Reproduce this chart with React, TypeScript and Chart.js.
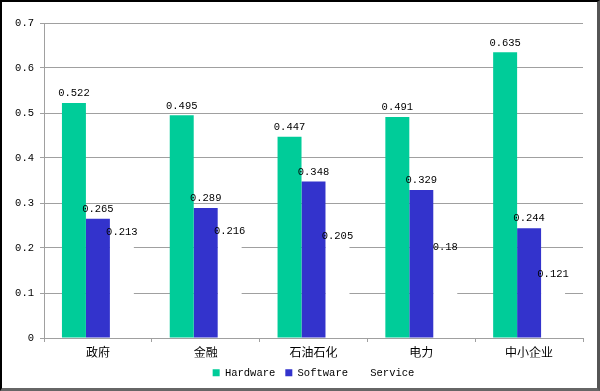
import React, { useEffect, useRef } from "react";
import { Chart, registerables } from "chart.js";

Chart.register(...registerables);

const categories = ["政府", "金融", "石油石化", "电力", "中小企业"];
const hardware = [0.522, 0.495, 0.447, 0.491, 0.635];
const software = [0.265, 0.289, 0.348, 0.329, 0.244];
const service = [0.213, 0.216, 0.205, 0.18, 0.121];
const yTicks = [0, 0.1, 0.2, 0.3, 0.4, 0.5, 0.6, 0.7];

const MONO = '"Liberation Mono", "DejaVu Sans Mono", monospace';
const CJK = '"Noto Sans CJK SC", sans-serif';
const GRID = "#a0a0a0";

const valueLabels = {
  id: "valueLabels",
  afterDatasetsDraw(chart: any) {
    const ctx = chart.ctx;
    ctx.save();
    ctx.font = `10.5px ${MONO}`;
    ctx.fillStyle = "#000";
    ctx.textAlign = "center";
    ctx.textBaseline = "middle";
    chart.data.datasets.forEach((ds: any, i: number) => {
      const meta = chart.getDatasetMeta(i);
      meta.data.forEach((el: any, j: number) => {
        ctx.fillText(String(ds.data[j]), el.x, el.y - 9.5);
      });
    });
    ctx.restore();
  },
};

export default function App() {
  const ref = useRef<HTMLCanvasElement>(null);
  useEffect(() => {
    if (!ref.current) return;
    const chart = new Chart(ref.current, {
      type: "bar",
      data: {
        labels: categories,
        datasets: [
          { label: "Hardware", data: hardware, backgroundColor: "#00cc99", borderWidth: 0 },
          { label: "Software", data: software, backgroundColor: "#3333cc", borderWidth: 0 },
          { label: "Service", data: service, backgroundColor: "#ffffff", borderWidth: 0 },
        ],
      },
      options: {
        responsive: false,
        animation: false,
        devicePixelRatio: 1,
        layout: { padding: { left: 0, top: 21, right: 14, bottom: 0 } },
        datasets: { bar: { barPercentage: 1, categoryPercentage: 0.667 } },
        plugins: {
          legend: {
            position: "bottom",
            fullSize: false,
            labels: {
              boxWidth: 7,
              boxHeight: 7,
              padding: 10,
              color: "#000",
              font: { family: MONO, size: 10.5 },
            },
          },
          tooltip: { enabled: false },
        },
        scales: {
          x: {
            grid: { display: true, drawOnChartArea: false, offset: true, tickLength: 4, color: GRID },
            border: { color: GRID },
            ticks: { color: "#000", font: { family: CJK, size: 12 }, padding: 3, maxRotation: 0 },
            afterFit: (s: any) => { s.height = 19.5; },
          },
          y: {
            min: 0,
            max: 0.7,
            afterBuildTicks: (s: any) => { s.ticks = yTicks.map((v) => ({ value: v })); },
            grid: { color: GRID, tickLength: 4 },
            border: { color: GRID },
            ticks: {
              color: "#000",
              font: { family: MONO, size: 10.5 },
              padding: 6,
              callback: (v: any) => String(Math.round(Number(v) * 10) / 10),
            },
            afterFit: (s: any) => { s.width = 42; },
          },
        },
      },
      plugins: [valueLabels],
    });
    return () => chart.destroy();
  }, []);
  return (
    <div
      style={{
        position: "absolute",
        left: 0,
        top: 0,
        width: 600,
        height: 391,
        boxSizing: "border-box",
        borderTop: "2px solid #000",
        borderLeft: "2px solid #000",
        borderRight: "3px solid #555",
        borderBottom: "3px solid #666",
        background: "#fff",
        overflow: "hidden",
      }}
    >
      <canvas ref={ref} width={595} height={386} style={{ display: "block" }} />
    </div>
  );
}
